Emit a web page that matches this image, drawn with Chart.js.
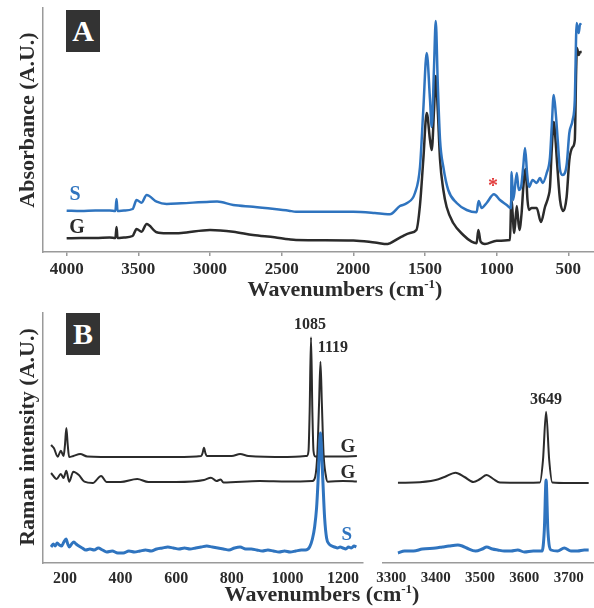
<!DOCTYPE html>
<html>
<head>
<meta charset="utf-8">
<script src="https://cdn.jsdelivr.net/npm/chart.js@4.4.1/dist/chart.umd.min.js"></script>
<style>
  body { margin: 0; background: #fff; }
  #lienzo { position: relative; width: 594px; height: 608px; overflow: hidden; }
  canvas { position: absolute; }
  .caja { position: absolute; width: 34px; height: 42px; background: #333; color: #fff;
          font: bold 30px "Liberation Serif", serif; text-align: center; line-height: 42px; }
  .tituloX { position: absolute; font: bold 22px "Liberation Serif", serif; color: #2b2b2b;
             transform: translateX(-50%); white-space: nowrap; }
  .tituloX sup { font-size: 13px; vertical-align: 8px; line-height: 0; }
  .tituloY { position: absolute; font: bold 22px "Liberation Serif", serif; color: #2b2b2b;
             transform: translate(-50%, -50%) rotate(-90deg); white-space: nowrap; }
</style>
</head>
<body>
<div id="lienzo">
  <canvas id="graficoIR" width="594" height="300" style="left:0;top:0"></canvas>
  <canvas id="graficoRamanBajo" width="370" height="308" style="left:0;top:300px"></canvas>
  <canvas id="graficoRamanAlto" width="224" height="308" style="left:370px;top:300px"></canvas>
  <div class="caja" style="left:66px;top:10px">A</div>
  <div class="caja" style="left:66px;top:313px">B</div>
  <div class="tituloX" style="left:345px;top:276px">Wavenumbers (cm<sup>-1</sup>)</div>
  <div class="tituloX" style="left:322px;top:581px">Wavenumbers (cm<sup>-1</sup>)</div>
  <div class="tituloY" style="left:27px;top:120px">Absorbance (A.U.)</div>
  <div class="tituloY" style="left:27px;top:437px">Raman intensity (A.U.)</div>
</div>
<script>
// Datos

// Panel A: espectro IR (absorbancia, unidades arbitrarias)
const irNumOnda = [4000, 3900, 3800, 3700, 3660, 3652, 3645, 3600, 3540, 3512, 3477, 3442, 3372, 3302, 3200,
  3000, 2950, 2838, 2700, 2550, 2450, 2400, 2200, 2000, 1850, 1760, 1745, 1675, 1628, 1570, 1535, 1512,
  1488, 1465, 1453, 1437, 1425, 1411, 1395, 1372, 1338, 1279, 1209, 1140, 1126, 1105, 1070, 1019, 977,
  930, 900, 896, 884, 860, 846, 830, 815, 802, 788, 775, 749, 721, 698, 679, 651, 628, 616, 602, 588, 574,
  558, 539, 512, 493, 470, 455, 442, 428, 418, 410];
const irAbsS = [41.3, 41, 41.5, 41.5, 41, 53, 41, 41.5, 43, 52, 49.3, 57, 50.3, 48, 48.7,
  50.3, 50.5, 47, 45.3, 43, 41.3, 40.3, 40.3, 40.3, 39, 37.7, 37.7, 46, 48.7, 59, 85, 142,
  199, 152, 125, 185, 231, 169, 112, 85, 62, 49, 42, 39.7, 51, 44, 49, 57.7, 52,
  47, 43.7, 80, 52, 79, 62, 65, 85, 104, 79, 65, 72, 69, 74, 69, 79, 95, 125, 157, 139, 112,
  82, 77, 87, 119, 132, 152, 229, 219, 228, 227];

const irNumOndaG = [4000, 3900, 3800, 3700, 3660, 3652, 3645, 3600, 3540, 3512, 3477, 3442, 3372, 3302, 3200,
  3000, 2838, 2700, 2550, 2450, 2400, 2000, 1850, 1760, 1745, 1663, 1605, 1560, 1535, 1512, 1488, 1465,
  1453, 1437, 1425, 1411, 1395, 1372, 1349, 1303, 1233, 1175, 1140, 1128, 1112, 1082, 1000, 907, 898,
  877, 860, 842, 826, 814, 798, 785, 775, 756, 721, 691, 663, 640, 628, 616, 602, 588, 580, 558, 535,
  512, 493, 470, 455, 445, 440, 428, 418, 407];
const irAbsG = [13.7, 14, 14, 14.5, 14, 25, 14, 14.5, 16, 23, 20.3, 28, 19.7, 18.7, 19,
  22, 20.3, 17, 14.7, 12.7, 12, 11.5, 9.5, 8, 8.7, 15.3, 19, 22, 47, 92, 139, 112,
  102, 142, 176, 142, 92, 62, 45, 29, 17, 10.3, 8.7, 22, 10.3, 8, 11.3, 12, 52,
  19, 46, 22, 39, 65, 83, 52, 42, 44, 44, 30, 45, 55, 65, 102, 130, 109, 92, 52, 41,
  55, 92, 105, 112, 185, 204, 197, 200, 200];

// Panel B izquierdo: Raman 150-1250 cm-1
const ramanNumOndaG1 = [150, 160, 174, 185, 195, 200, 205, 210, 215, 230, 255, 280, 400, 600, 690, 695, 700,
  705, 710, 800, 830, 860, 1000, 1070, 1076, 1080, 1085, 1090, 1094, 1100, 1200, 1250];
const ramanIntG1 = [118, 115, 106.3, 112.3, 107, 118, 135, 118, 106, 107, 109, 106.5, 106, 106, 107, 110, 115.3,
  110, 107, 107, 109, 107, 106, 107, 112, 150, 225.7, 150, 112, 106.5, 106.5, 107];

const ramanNumOndaG2 = [150, 170, 185, 195, 205, 215, 230, 250, 270, 300, 330, 350, 400, 460, 500, 600, 700,
  725, 745, 760, 770, 900, 1000, 1090, 1100, 1108, 1114, 1119, 1124, 1130, 1138, 1145, 1200, 1250];
const ramanIntG2 = [90, 84, 89, 85, 92.3, 81.3, 91.3, 88, 81.3, 80, 87, 81, 81, 84, 81, 81, 83,
  85.3, 82, 83.5, 80.5, 82, 81.5, 82, 86, 110, 160, 201.3, 160, 110, 88, 81.3, 82, 81.5];

const ramanNumOndaS = [150, 158, 165, 172, 180, 188, 196, 204, 210, 216, 224, 232, 240, 250, 262, 275, 290, 305,
  320, 335, 350, 370, 390, 410, 430, 450, 470, 490, 510, 530, 550, 570, 590, 610, 630, 650, 670, 690,
  710, 730, 750, 770, 790, 810, 830, 850, 870, 890, 910, 930, 950, 970, 990, 1010, 1030, 1050, 1065,
  1080, 1090, 1098, 1105, 1110, 1115, 1119, 1123, 1128, 1134, 1141, 1150, 1160, 1170, 1180, 1190,
  1200, 1210, 1220, 1230, 1240, 1248];
const ramanIntS = [16, 19, 17, 20, 18, 17, 21, 24, 19, 16, 19, 21, 19, 17, 15, 13, 14, 13,
  15, 13, 11, 12, 10, 10, 12, 11, 12, 13, 12, 14, 15, 16, 15, 14, 15, 14, 15, 16,
  17, 16, 15, 14, 13, 15, 16, 14, 14, 13, 12, 13, 12, 11, 12, 11, 12, 13, 13,
  16, 24, 36, 55, 80, 112, 130, 112, 80, 45, 25, 19, 17, 16, 15, 16,
  15, 14, 16, 15, 17, 16];

// Panel B derecho: Raman 3300-3750 cm-1
const ramanAltoNumOndaG = [3315, 3350, 3400, 3420, 3445, 3465, 3485, 3500, 3515, 3530, 3545, 3600, 3635,
  3642, 3649, 3656, 3663, 3700, 3745];
const ramanAltoIntG = [80.3, 80.5, 83, 86, 90.3, 86, 81, 84, 88, 84, 80.5, 80.3, 80.5,
  103, 151.3, 103, 80.5, 80, 80];

const ramanAltoNumOndaS = [3315, 3330, 3350, 3370, 3400, 3415, 3430, 3450, 3460, 3470, 3490, 3505, 3515, 3528,
  3540, 3555, 3570, 3585, 3600, 3620, 3640, 3645, 3649, 3653, 3660, 3675, 3690, 3705, 3720, 3735, 3745];
const ramanAltoIntS = [10, 12, 12, 14, 15, 16, 17, 18, 17, 15, 12, 14, 16, 14,
  13, 12, 12, 13, 11, 12, 12, 33, 83, 33, 13, 12, 15, 12, 12, 13, 13];

// Marcas de los ejes
const ticksIR = [4000, 3500, 3000, 2500, 2000, 1500, 1000, 500];
const ticksRamanBajo = [200, 400, 600, 800, 1000, 1200];
const ticksRamanAlto = [3300, 3400, 3500, 3600, 3700];

const AZUL = '#2f74bf';
const NEGRO = '#2b2b2b';
const GRIS = '#9a9a9a';
const FUENTE = '"Liberation Serif", serif';

// Plugin para dibujar etiquetas de texto sobre el gráfico
const etiquetasPlugin = {
  id: 'etiquetas',
  afterDatasetsDraw(chart, args, opts) {
    const { ctx, scales } = chart;
    (opts.items || []).forEach(it => {
      ctx.save();
      ctx.font = `bold ${it.size || 20}px ${FUENTE}`;
      ctx.fillStyle = it.color || NEGRO;
      ctx.textAlign = 'center';
      ctx.textBaseline = 'middle';
      ctx.fillText(it.text, scales.x.getPixelForValue(it.x), scales.y.getPixelForValue(it.y));
      ctx.restore();
    });
  }
};

function puntos(xs, ys) {
  return xs.map((x, i) => ({ x: x, y: ys[i] }));
}

function serie(xs, ys, color, ancho) {
  return {
    data: puntos(xs, ys),
    borderColor: color,
    borderWidth: ancho,
    pointRadius: 0,
    fill: false,
    cubicInterpolationMode: 'monotone'
  };
}

function ejeX(min, max, valores, opciones) {
  return {
    type: 'linear',
    min: min,
    max: max,
    reverse: opciones.reverse || false,
    afterBuildTicks: scale => { scale.ticks = valores.map(v => ({ value: v })); },
    afterFit: scale => { scale.height = opciones.alto; },
    ticks: {
      autoSkip: false,
      maxRotation: 0,
      padding: opciones.padding,
      color: NEGRO,
      font: { family: FUENTE, size: opciones.fuente, weight: 'bold' },
      callback: v => String(v)
    },
    grid: { display: true, drawOnChartArea: false, drawTicks: opciones.marcas > 0, tickLength: opciones.marcas, color: GRIS, lineWidth: 1.5 },
    border: { display: true, color: GRIS, width: 1.5 }
  };
}

function ejeY(max) {
  return {
    min: 0,
    max: max,
    afterFit: scale => { scale.width = 43; },
    ticks: { display: false },
    grid: { display: true, drawOnChartArea: false, drawTicks: false },
    border: { display: true, color: GRIS, width: 1.5 }
  };
}

const opcionesBase = {
  responsive: false,
  animation: false,
  devicePixelRatio: 1,
  events: []
};

// Panel A
new Chart(document.getElementById('graficoIR'), {
  type: 'line',
  data: {
    datasets: [
      serie(irNumOnda, irAbsS, AZUL, 2.5),
      serie(irNumOndaG, irAbsG, NEGRO, 2.5)
    ]
  },
  options: {
    ...opcionesBase,
    layout: { padding: { top: 8, left: 0, right: 0, bottom: 0 } },
    scales: {
      x: ejeX(321, 4165, ticksIR, { reverse: true, alto: 48, padding: 3, fuente: 17, marcas: 4 }),
      y: ejeY(244)
    },
    plugins: {
      legend: { display: false },
      tooltip: { enabled: false },
      etiquetas: {
        items: [
          { text: 'S', x: 3942, y: 57, color: AZUL, size: 20 },
          { text: 'G', x: 3928, y: 24, color: NEGRO, size: 20 },
          { text: '*', x: 1026, y: 65, color: '#e23b3b', size: 20 }
        ]
      }
    }
  },
  plugins: [etiquetasPlugin]
});

// Panel B izquierdo
new Chart(document.getElementById('graficoRamanBajo'), {
  type: 'line',
  data: {
    datasets: [
      serie(ramanNumOndaS, ramanIntS, AZUL, 3),
      serie(ramanNumOndaG2, ramanIntG2, NEGRO, 2),
      serie(ramanNumOndaG1, ramanIntG1, NEGRO, 2)
    ]
  },
  options: {
    ...opcionesBase,
    layout: { padding: { top: 13, left: 0, right: 7, bottom: 0 } },
    scales: {
      x: ejeX(121, 1272, ticksRamanBajo, { alto: 45, padding: 6, fuente: 16, marcas: 0 }),
      y: ejeY(250)
    },
    plugins: {
      legend: { display: false },
      tooltip: { enabled: false },
      etiquetas: {
        items: [
          { text: 'G', x: 1218, y: 116, color: NEGRO, size: 19 },
          { text: 'G', x: 1218, y: 90, color: NEGRO, size: 19 },
          { text: 'S', x: 1214, y: 28, color: AZUL, size: 19 },
          { text: '1085', x: 1081, y: 238, color: NEGRO, size: 16 },
          { text: '1119', x: 1164, y: 215, color: NEGRO, size: 16 }
        ]
      }
    }
  },
  plugins: [etiquetasPlugin]
});

// Panel B derecho
new Chart(document.getElementById('graficoRamanAlto'), {
  type: 'line',
  data: {
    datasets: [
      serie(ramanAltoNumOndaS, ramanAltoIntS, AZUL, 3),
      serie(ramanAltoNumOndaG, ramanAltoIntG, NEGRO, 2)
    ]
  },
  options: {
    ...opcionesBase,
    layout: { padding: { top: 13, left: 7, right: 0, bottom: 0 } },
    scales: {
      x: ejeX(3280, 3757, ticksRamanAlto, { alto: 45, padding: 6, fuente: 15, marcas: 0 }),
      y: { display: false, min: 0, max: 250 }
    },
    plugins: {
      legend: { display: false },
      tooltip: { enabled: false },
      etiquetas: {
        items: [
          { text: '3649', x: 3649, y: 163, color: NEGRO, size: 16 }
        ]
      }
    }
  },
  plugins: [etiquetasPlugin]
});
</script>
</body>
</html>
